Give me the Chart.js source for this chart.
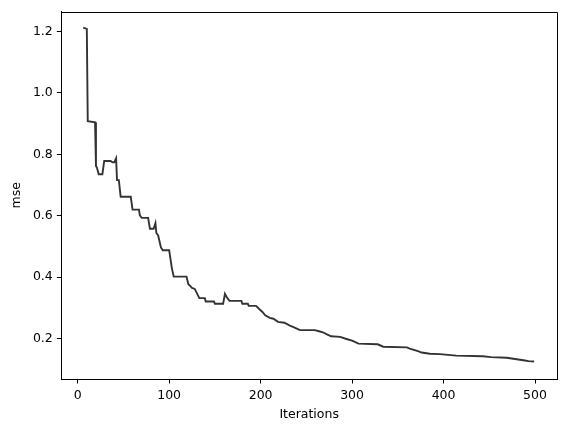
<!DOCTYPE html>
<html lang="en">
<head>
    <meta charset="UTF-8">
    <title>mse vs Iterations</title>
    <style>
        html, body {
            margin: 0;
            padding: 0;
            background: #fff;
        }
        #wrap {
            width: 567px;
            height: 432px;
        }
    </style>
</head>
<body>
    <div id="wrap"><canvas id="mseChart" width="567" height="432"></canvas></div>

    <script src="https://cdn.jsdelivr.net/npm/chart.js"></script>
    <script>
        // values
        const iterations = [6, 10, 11, 19, 20, 21, 23, 27, 29, 36, 38, 40, 42, 43, 45, 47, 58, 60, 67, 68, 70, 77, 79, 83, 85, 86, 88, 91, 93, 100,
            103, 105, 119, 121, 123, 125, 128, 130, 133, 139, 140, 149, 150, 159, 161, 163, 166, 179, 180, 186, 187, 195, 199, 202, 205, 210,
            214, 219, 226, 228, 232, 236, 243, 259, 263, 268, 272, 277, 287, 293, 300, 307, 328, 334, 360, 363, 372, 376, 385, 396, 414,
            443, 452, 469, 489, 493, 499];
        const mse = [1.212, 1.208, 0.908, 0.904, 0.762, 0.757, 0.735, 0.735, 0.778, 0.778, 0.774, 0.774, 0.787, 0.716, 0.716, 0.662, 0.662,
            0.620, 0.620, 0.601, 0.593, 0.593, 0.558, 0.558, 0.576, 0.544, 0.536, 0.497, 0.488, 0.488,
            0.429, 0.402, 0.402, 0.377, 0.372, 0.365, 0.362, 0.350, 0.332, 0.332, 0.321, 0.321, 0.314, 0.314, 0.346, 0.335, 0.323, 0.323,
            0.314, 0.314, 0.307, 0.307, 0.295, 0.287, 0.276, 0.268, 0.265, 0.255, 0.252, 0.249, 0.243, 0.238, 0.228, 0.228, 0.225, 0.221,
            0.215, 0.208, 0.206, 0.200, 0.194, 0.184, 0.182, 0.174, 0.172, 0.168, 0.160, 0.155, 0.151, 0.150, 0.145, 0.143, 0.140, 0.138,
            0.129, 0.127, 0.126];
        const xTicks = [0, 100, 200, 300, 400, 500];
        const yTicks = [0.2, 0.4, 0.6, 0.8, 1.0, 1.2];

        const fontSpec = { family: "'DejaVu Sans', sans-serif", size: 12.5 };

        // top and right spines like matplotlib
        const frame = {
            id: 'frame',
            afterDraw(chart) {
                const a = chart.chartArea;
                const ctx = chart.ctx;
                const l = Math.round(a.left) + 0.5;
                const t = Math.round(a.top) + 0.5;
                const r = Math.round(a.right) + 0.5;
                const b = Math.round(a.bottom) + 0.5;
                ctx.save();
                ctx.strokeStyle = '#000';
                ctx.lineWidth = 1;
                ctx.beginPath();
                ctx.moveTo(l, t);
                ctx.lineTo(r, t);
                ctx.lineTo(r, b);
                ctx.stroke();
                ctx.restore();
            }
        };

        const ctx = document.getElementById('mseChart').getContext('2d');
        new Chart(ctx, {
            type: 'line',
            data: {
                datasets: [{
                    label: 'mse',
                    data: iterations.map((it, i) => ({ x: it, y: mse[i] })),
                    borderColor: 'rgba(0, 0, 0, 0.8)',
                    borderWidth: 1.9,
                    pointRadius: 0,
                    fill: false,
                    tension: 0
                }]
            },
            plugins: [frame],
            options: {
                responsive: false,
                animation: false,
                layout: { padding: { left: 9.5, right: 10, top: 9, bottom: 0 } },
                plugins: {
                    legend: { display: false },
                    tooltip: { enabled: false }
                },
                scales: {
                    x: {
                        type: 'linear',
                        min: -17.9,
                        max: 524,
                        afterFit: s => { s.height = 53; },
                        afterBuildTicks: s => { s.ticks = xTicks.map(v => ({ value: v })); },
                        grid: { drawOnChartArea: false, drawTicks: true, tickLength: 4.5, color: '#000' },
                        border: { color: '#000', width: 1 },
                        ticks: { color: '#000', font: fontSpec, padding: 5, maxRotation: 0 },
                        title: { display: true, text: 'Iterations', color: '#000', font: fontSpec, padding: { top: 2, bottom: 10 } }
                    },
                    y: {
                        type: 'linear',
                        min: 0.069,
                        max: 1.2645,
                        afterFit: s => { s.width = 51.8; },
                        afterBuildTicks: s => { s.ticks = yTicks.map(v => ({ value: v })); },
                        grid: { drawOnChartArea: false, drawTicks: true, tickLength: 4.5, color: '#000' },
                        border: { color: '#000', width: 1 },
                        ticks: { color: '#000', font: fontSpec, padding: 4, callback: v => v.toFixed(1) },
                        title: { display: true, text: 'mse', color: '#000', font: fontSpec, padding: { top: 0, bottom: 0 } }
                    }
                }
            }
        });
    </script>
</body>
</html>
